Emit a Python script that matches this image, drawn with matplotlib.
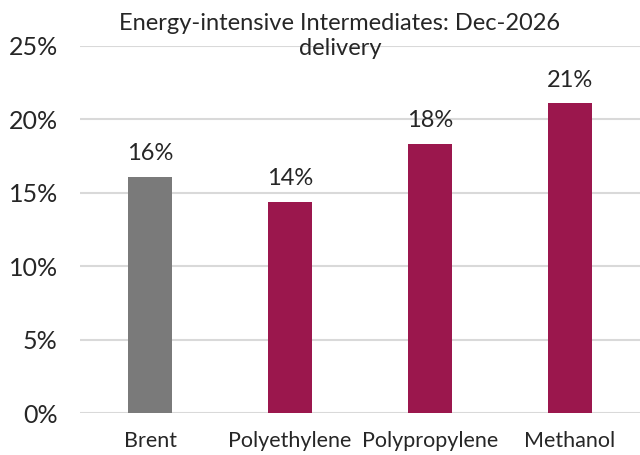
import matplotlib.pyplot as plt
from matplotlib.ticker import FuncFormatter

plt.rcParams['font.family'] = ['Lato', 'DejaVu Sans']

# data
categories = ['Brent', 'Polyethylene', 'Polypropylene', 'Methanol']
values = [16.1, 14.4, 18.35, 21.1]
bar_colors = ['#7a7a7a', '#9b174d', '#9b174d', '#9b174d']

fig = plt.figure(figsize=(6.4, 4.55), dpi=100)
ax = fig.add_axes([0.125, 0.092, 0.875, 0.807])

bars = ax.bar(range(len(categories)), values, width=0.32, color=bar_colors, zorder=3)

for b, v in zip(bars, values):
    ax.text(b.get_x() + b.get_width() / 2, v + 0.85, f'{v:.0f}%',
            ha='center', va='bottom', fontsize=17, color='#262626')

ax.set_xlim(-0.5, 3.5)
ax.set_ylim(0, 25)
ax.set_yticks([0, 5, 10, 15, 20, 25])
ax.yaxis.set_major_formatter(FuncFormatter(lambda y, _: f'{y:.0f}%'))
ax.set_xticks(range(len(categories)))
ax.set_xticklabels(categories)
ax.tick_params(axis='y', length=0, labelsize=18, pad=16, labelcolor='#262626')
ax.tick_params(axis='x', length=0, labelsize=15.5, pad=13, labelcolor='#262626')

ax.grid(axis='y', color='#d9d9d9', linewidth=1.5, zorder=0)
for s in ax.spines.values():
    s.set_visible(False)

fig.text(340 / 640, 1 - 36 / 455, 'Energy-intensive Intermediates: Dec-2026\ndelivery',
         ha='center', va='center', fontsize=17, color='#262626', linespacing=1.25)

fig.savefig('out.png', dpi=100)
